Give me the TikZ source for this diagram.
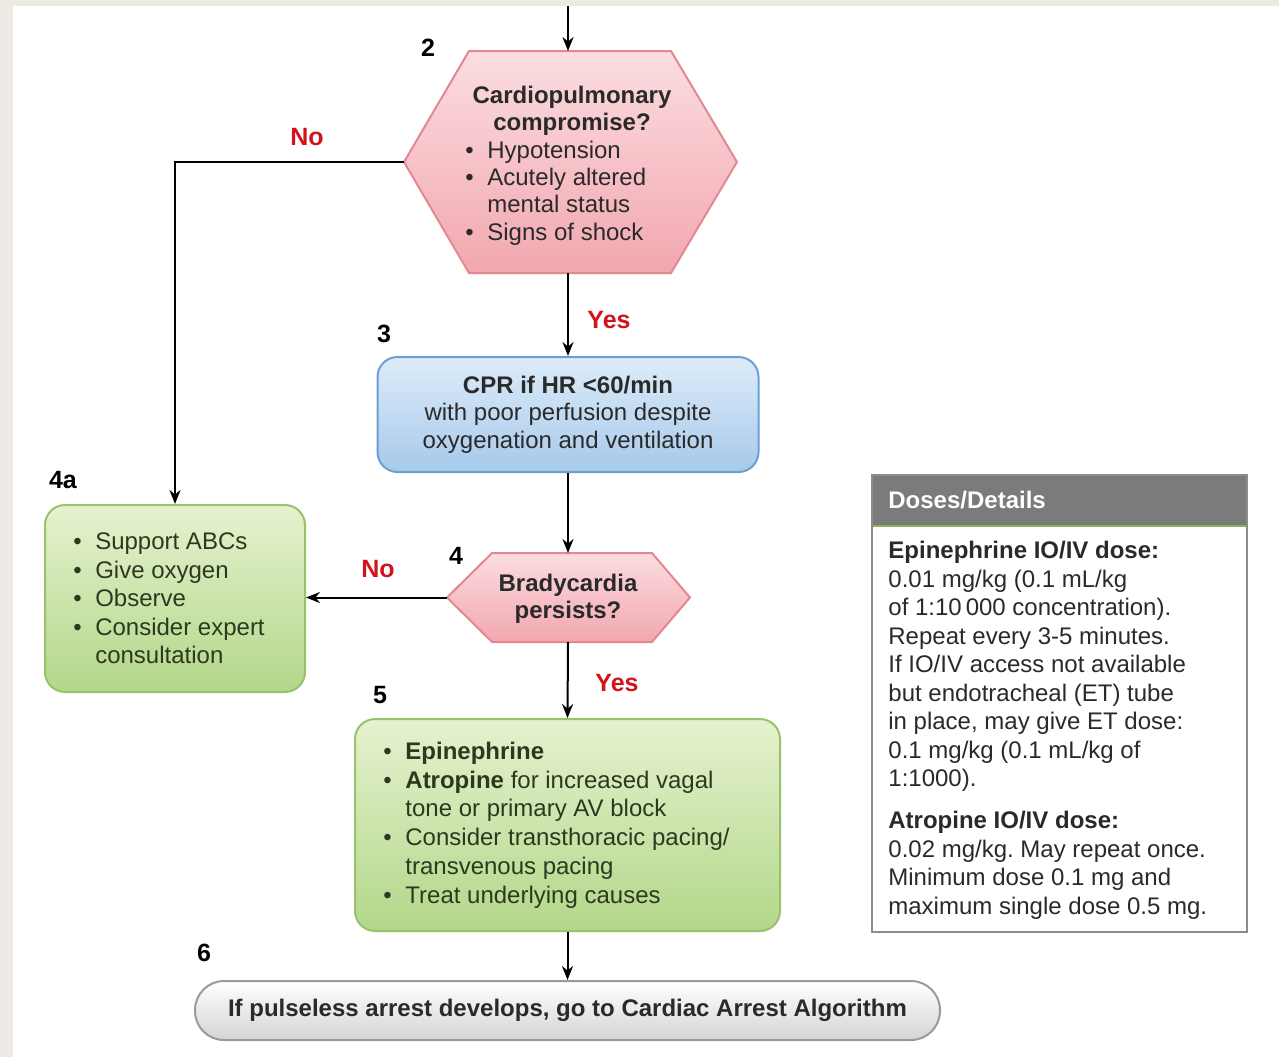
\documentclass[tikz,border=0pt]{standalone}
\usepackage{fontspec}
\setmainfont{Liberation Sans}
\frenchspacing
\usetikzlibrary{arrows.meta}
\definecolor{bgbeige}{HTML}{EDEAE3}
\definecolor{textc}{HTML}{2A2A2A}
\definecolor{greentext}{HTML}{2C391F}
\definecolor{labred}{HTML}{D3131C}
\definecolor{pinktop}{HTML}{FBDDE0}
\definecolor{pinkbot}{HTML}{F2A7AF}
\definecolor{pinkline}{HTML}{E38893}
\definecolor{bluetop}{HTML}{DDECF9}
\definecolor{bluebot}{HTML}{A7C9EB}
\definecolor{blueline}{HTML}{6E9FD1}
\definecolor{greentop}{HTML}{E6F2CF}
\definecolor{greenbot}{HTML}{B2D789}
\definecolor{greenline}{HTML}{9AC26B}
\definecolor{graytop}{HTML}{FFFFFF}
\definecolor{graybot}{HTML}{D4D4D4}
\definecolor{grayline}{HTML}{9A9A9A}
\definecolor{headgray}{HTML}{7B7B7B}
\definecolor{headgreen}{HTML}{8DB35A}
\definecolor{doseline}{HTML}{8C8C8C}
\newcommand{\bl}{\makebox[11pt][l]{\textbullet}}
\newcommand{\ind}{\hspace*{11pt}}
\newcommand{\padr}[1]{\rule{#1}{0pt}}
\begin{document}
\begin{tikzpicture}[x=0.5pt,y=-0.5pt,
  txt/.style={text=textc, inner sep=0pt, font=\fontsize{12}{14}\selectfont},
  numlab/.style={text=black, inner sep=0pt, font=\bfseries\fontsize{12.5}{14}\selectfont},
  yesno/.style={text=labred, inner sep=0pt, font=\bfseries\fontsize{12.5}{14}\selectfont},
  conn/.style={line width=1pt, draw=black},
  arr/.style={conn, -{Stealth[length=7pt,width=5.5pt]}},
  pinkshape/.style={top color=pinktop, bottom color=pinkbot, draw=pinkline, line width=1pt},
  bluebox/.style={top color=bluetop, bottom color=bluebot, draw=blueline, line width=1pt, rounded corners=10pt, inner sep=0pt},
  greenbox/.style={top color=greentop, bottom color=greenbot, draw=greenline, line width=1pt, rounded corners=10pt, inner sep=0pt, text=greentext},
  graybox/.style={top color=graytop, bottom color=graybot, draw=grayline, line width=1pt, rounded corners=14.5pt, inner sep=0pt, text=textc},
]
\useasboundingbox (0,0) rectangle (1279,1057);
\fill[bgbeige] (0,0) rectangle (1279,1057);
\fill[white] (13,6) rectangle (1279,1057);

% hexagon 2
\path[pinkshape] (469,51) -- (671,51) -- (737,162) -- (671,273) -- (469,273) -- (404,162) -- cycle;
\coordinate (hexT) at (568,51);
\coordinate (hexB) at (568,273);
\coordinate (hexL) at (404,162);
\coordinate (topin) at (568,6);
\node[txt, align=center, font=\bfseries\fontsize{12}{13.5}\selectfont] (hextitle) at (572,111) {Cardiopulmonary\\compromise?};
\node[txt, align=left, anchor=west, font=\fontsize{12}{13.6}\selectfont] (hexlist) at (465,193) {\bl Hypotension\\\bl Acutely altered\\\ind mental status\\\bl Signs of shock};

% CPR box 3
\node[bluebox, minimum width=190.5pt, minimum height=57.5pt, align=center, text=textc, font=\fontsize{12}{13.75}\selectfont] (cpr) at (568,414.5) {\textbf{CPR if HR <60/min}\\with poor perfusion despite\\oxygenation and ventilation};

% diamond 4
\path[pinkshape] (492,553) -- (652,553) -- (690,597.5) -- (652,642) -- (492,642) -- (447,597.5) -- cycle;
\coordinate (diaT) at (568,553);
\coordinate (diaB) at (568,642);
\coordinate (diaL) at (447,597.5);
\node[txt, align=center, font=\bfseries\fontsize{12}{13.5}\selectfont] (diatext) at (568,599) {Bradycardia\\persists?};

% 4a box
\node[greenbox, minimum width=130pt, minimum height=93.5pt, align=left, font=\fontsize{12}{14.25}\selectfont] (box4a) at (175,598.5) {\bl Support ABCs\\\bl Give oxygen\\\bl Observe\\\bl Consider expert\padr{6pt}\\\ind consultation};

% box 5
\node[greenbox, minimum width=212.5pt, minimum height=106pt, align=left, font=\fontsize{12}{14.4}\selectfont] (box5) at (567.5,825) {\bl \textbf{Epinephrine}\\\bl \textbf{Atropine} for increased vagal\\\ind tone or primary AV block\\\bl Consider transthoracic pacing/\padr{11pt}\\\ind transvenous pacing\\\bl Treat underlying causes};

% box 6
\node[graybox, minimum width=372.5pt, minimum height=29.5pt, font=\bfseries\fontsize{12}{14}\selectfont] (box6) at (567.5,1010.5) {If pulseless arrest develops, go to Cardiac Arrest Algorithm};

% doses box
\node[fill=white, minimum width=187.5pt, minimum height=228.5pt, inner sep=0pt] (doses) at (1059.5,703.5) {};
\fill[headgray] (doses.north west) rectangle (1247,525);
\draw[headgreen, line width=1pt] (872,525.5) -- (1247,525.5);
\draw[doseline, line width=1pt] (doses.north west) rectangle (doses.south east);
\node[inner sep=0pt, anchor=west, text=white, font=\bfseries\fontsize{12}{14}\selectfont] (doseshead) at (888,500) {Doses/Details};
\node[txt, anchor=north west, align=left, font=\fontsize{12}{14.25}\selectfont, text=textc] (dosesbody) at (888,541) {\textbf{Epinephrine IO/IV dose:}\\
0.01 mg/kg (0.1 mL/kg\\
of 1:10\,000 concentration).\\
Repeat every 3-5 minutes.\\
If IO/IV access not available\\
but endotracheal (ET) tube\\
in place, may give ET dose:\\
0.1 mg/kg (0.1 mL/kg of\\
1:1000).\\[6.75pt]
\textbf{Atropine IO/IV dose:}\\
0.02 mg/kg. May repeat once.\\
Minimum dose 0.1 mg and\\
maximum single dose 0.5 mg.};

% connectors
\draw[arr] (topin) -- (hexT);
\draw[arr] (hexB) -- (cpr.north);
\draw[arr] (hexL) -- (175,162) -- (box4a.north);
\draw[arr] (cpr.south) -- (diaT);
\draw[arr] (diaL) -- (box4a.east |- diaL);
\draw[arr] (diaB) -- (box5.north);
\draw[arr] (box5.south) -- (box6.north);

% labels
\node[numlab] (n2) at (428,48) {2};
\node[numlab] (n3) at (384,334) {3};
\node[numlab] (n4a) at (63,480) {4a};
\node[numlab] (n4) at (456,556) {4};
\node[numlab] (n5) at (380,695) {5};
\node[numlab] (n6) at (204,953) {6};
\node[yesno] (no1) at (307,137) {No};
\node[yesno] (yes1) at (609,320) {Yes};
\node[yesno] (no2) at (378,569) {No};
\node[yesno] (yes2) at (617,683) {Yes};
\end{tikzpicture}
\end{document}
